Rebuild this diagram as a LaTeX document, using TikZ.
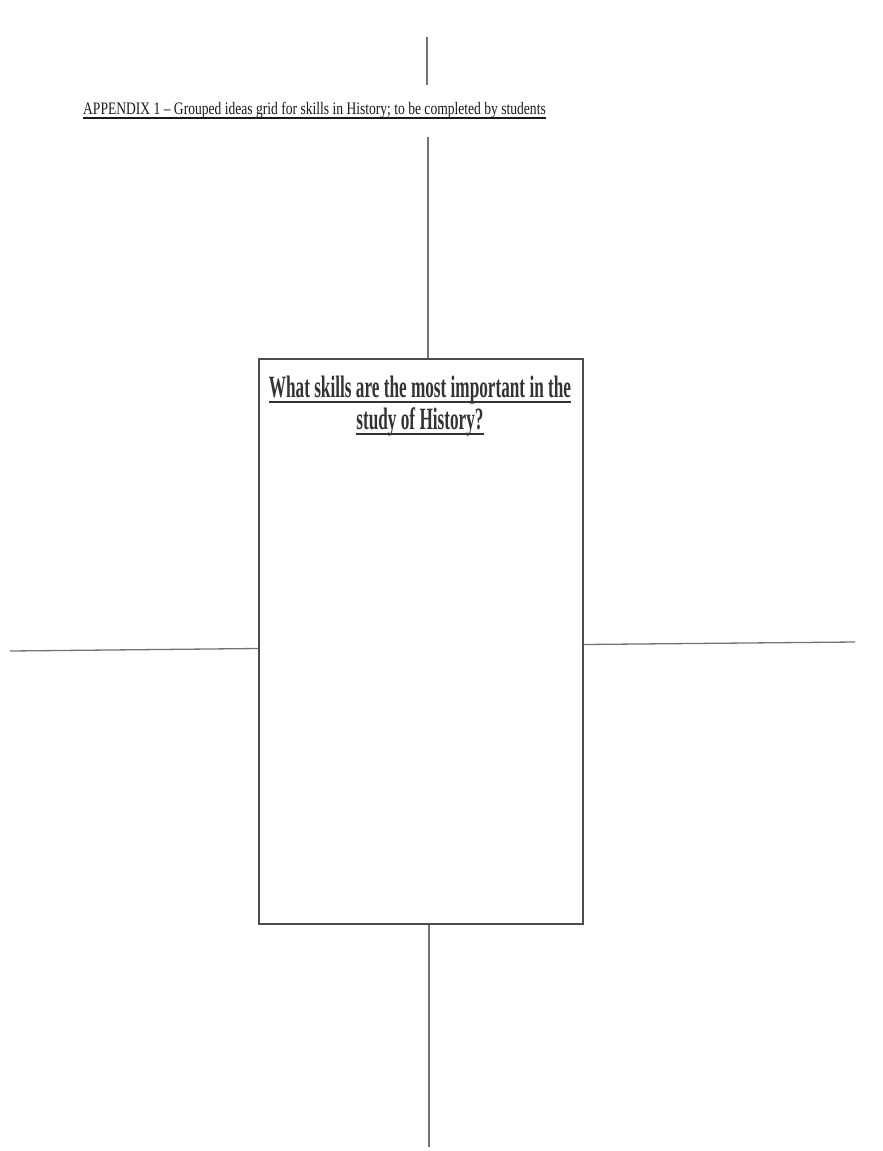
\documentclass[tikz,border=0pt]{standalone}
\usepackage{fontspec}
\setmainfont{Liberation Serif}
\newfontfamily\headfont[FakeStretch=0.775]{Liberation Serif}
\newfontfamily\askfont[FakeStretch=0.555]{Liberation Serif}
\usepackage{tikz}
\usetikzlibrary{positioning,calc}
% underline with a rule of given drop and thickness
\newcommand{\thickul}[3]{\setbox0\hbox{#3}\rlap{\rule[-#1]{\wd0}{#2}}\box0}
\tikzset{
  gridline/.style={draw=black!55, line width=1.3pt},
  askbox/.style  ={draw=black!70, line width=1.3pt, minimum width=324pt,
                   minimum height=565pt, inner sep=0pt},
  headtext/.style={font=\headfont\fontsize{17.5}{20}\selectfont, inner sep=0pt,
                   text=black!90},
  asktext/.style ={font=\askfont\bfseries\fontsize{31}{32}\selectfont,
                   align=center, inner sep=0pt, text=black!80},
}
\begin{document}
\begin{tikzpicture}[x=1pt,y=-1pt]
  \useasboundingbox (0,0) rectangle (883,1151);
  % centre box with the question
  \node[askbox] (ask) at (421,641.5) {};
  \node[asktext, anchor=base] (askq) at (420,429)
    {\thickul{5.5pt}{2pt}{What skills are the most important in the}\\
     \thickul{5.5pt}{2pt}{study of History?}};
  % heading across the top
  \node[headtext, anchor=base west] (head) at (83,114)
    {\thickul{4.5pt}{1.5pt}{APPENDIX 1 – Grouped ideas grid for skills in History; to be completed by students}};
  % end points of the four arms
  \coordinate (topend)   at (427,37);
  \coordinate (topgapa)  at (427,85);
  \coordinate (topgapb)  at (428,137);
  \coordinate (leftend)  at (10,651);
  \coordinate (rightend) at (855,642);
  \coordinate (botend)   at (429,1147);
  \draw[gridline] (topend) -- (topgapa);
  \draw[gridline] (topgapb) -- (topgapb |- ask.north);
  \draw[gridline] (leftend) -- ($(ask.west)+(0,7)$);
  \draw[gridline] ($(ask.east)+(0,3)$) -- (rightend);
  \draw[gridline] (botend |- ask.south) -- (botend);
\end{tikzpicture}
\end{document}
